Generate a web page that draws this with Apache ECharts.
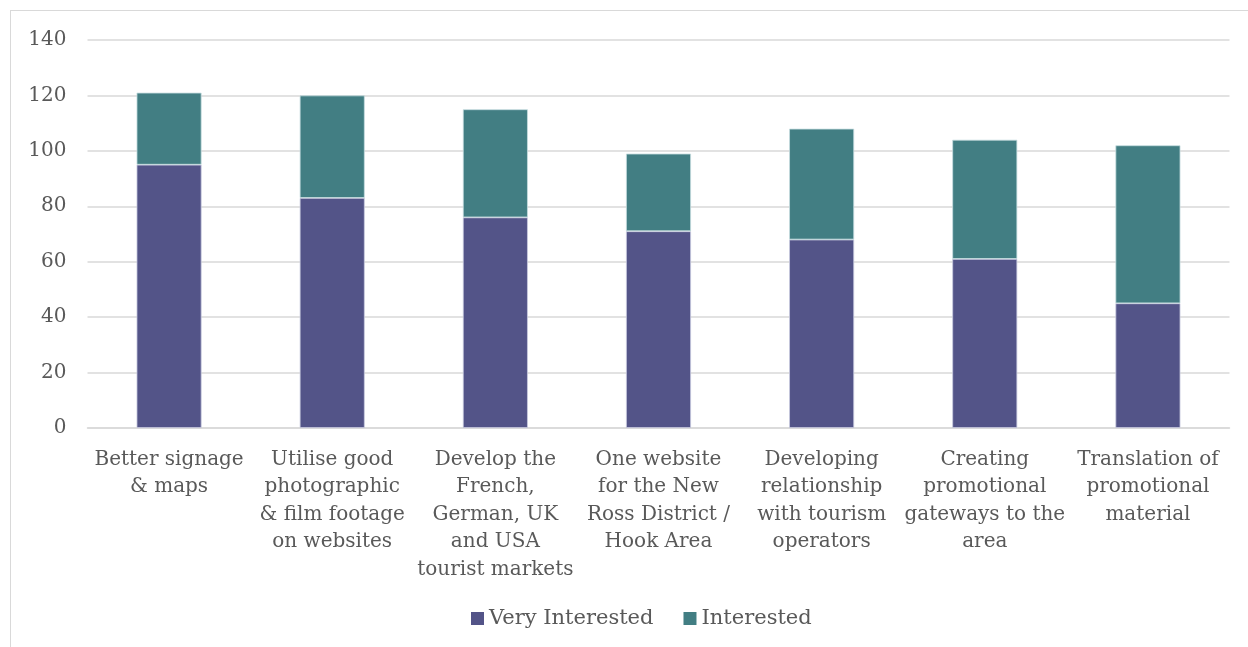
<!DOCTYPE html>
<html>
<head>
<meta charset="utf-8">
<script src="https://cdn.jsdelivr.net/npm/echarts@6/dist/echarts.min.js"></script>
<style>
html,body{margin:0;padding:0;background:#fff;}
#frame{position:absolute;left:10px;top:10px;width:1246px;height:650px;border:1.5px solid #d9d9d9;box-sizing:border-box;}
#c{position:absolute;left:0;top:0;width:1248px;height:647px;}
</style>
</head>
<body>
<div id="frame"></div>
<div id="c"></div>
<script>
const categories = [
  "Better signage\n& maps",
  "Utilise good\nphotographic\n& film footage\non websites",
  "Develop the\nFrench,\nGerman, UK\nand USA\ntourist markets",
  "One website\nfor the New\nRoss District /\nHook Area",
  "Developing\nrelationship\nwith tourism\noperators",
  "Creating\npromotional\ngateways to the\narea",
  "Translation of\npromotional\nmaterial"
];
const veryInterested = [95, 83, 76, 71, 68, 61, 45];
const interested = [26, 37, 39, 28, 40, 43, 57];
const yTicks = [0, 20, 40, 60, 80, 100, 120, 140];

const FONT = "'DejaVu Serif', 'Liberation Serif', serif";
const chart = echarts.init(document.getElementById('c'), null, {renderer: 'canvas'});
chart.setOption({
  animation: false,
  textStyle: {fontFamily: FONT},
  grid: {left: 87.5, right: 18.5, top: 40, bottom: 219},
  legend: {
    data: ['Very Interested', 'Interested'],
    bottom: 13,
    left: 466,
    itemWidth: 13,
    itemHeight: 13,
    itemGap: 30,
    icon: 'rect',
    itemStyle: {borderWidth: 0},
    textStyle: {fontFamily: FONT, fontSize: 21, color: '#595959'}
  },
  xAxis: {
    type: 'category',
    data: categories,
    axisLine: {show: true, lineStyle: {color: '#d9d9d9', width: 1.5}},
    axisTick: {show: false},
    axisLabel: {interval: 0, fontFamily: FONT, fontSize: 20, color: '#595959', lineHeight: 27.5, margin: 18}
  },
  yAxis: {
    type: 'value',
    min: 0, max: 140, interval: 20,
    axisLine: {show: false},
    axisTick: {show: false},
    splitLine: {lineStyle: {color: '#d9d9d9', width: 1.5}},
    axisLabel: {fontFamily: FONT, fontSize: 20, color: '#595959', margin: 21,
      formatter: v => yTicks.includes(v) ? String(v) : ''}
  },
  series: [
    {name: 'Very Interested', type: 'bar', stack: 'a', data: veryInterested, barWidth: 65,
     itemStyle: {color: '#535488', borderColor: '#c9cbe0', borderWidth: 0.8}},
    {name: 'Interested', type: 'bar', stack: 'a', data: interested, barWidth: 65,
     itemStyle: {color: '#427E83', borderColor: '#c6dde0', borderWidth: 0.8}}
  ]
});
</script>
</body>
</html>
